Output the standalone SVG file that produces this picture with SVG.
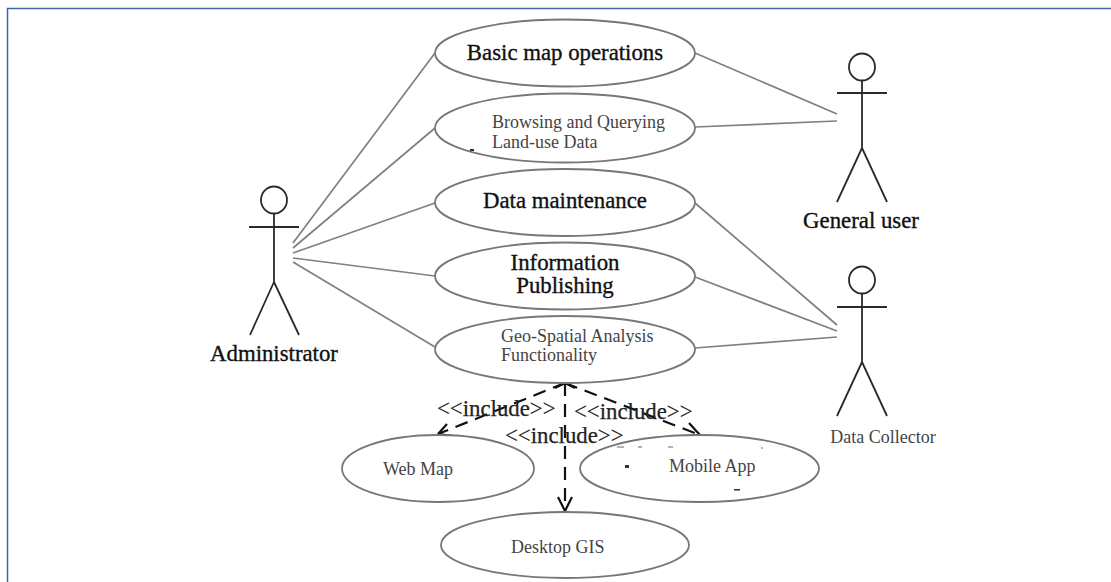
<svg xmlns="http://www.w3.org/2000/svg" width="1111" height="582" viewBox="0 0 1111 582">
<style>
.uc{fill:#fff;stroke:#777;stroke-width:1.8}
.a{fill:none;stroke:#2a2a2a;stroke-width:1.8}
.c{fill:none;stroke:#808080;stroke-width:1.7}
.d{fill:none;stroke:#111;stroke-width:2.2;stroke-dasharray:13 8}
.h{fill:none;stroke:#111;stroke-width:2.2}
.m{fill:#333}
text{font-family:"Liberation Serif","Times New Roman",serif}
.b{font-size:22.8px;fill:#111;stroke:#111;stroke-width:.35}
.s{font-size:18px;fill:#444}
.i{font-size:22.8px;fill:#222;stroke:#222;stroke-width:.25}
</style>
<rect width="1111" height="582" fill="#fff"/>
<path d="M7.5 582V8.5H1111" fill="none" stroke="#3f66ad" stroke-width="1.5"/>
<g id="connectors">
<path class="c" d="M293 243L435 53M293 248L435 128M293 253L435 203M293 258L435 276M293 262L435 347M695 53L837 114M695 127L837 121M695 203L837 325M695 277L837 331M695 348L837 337"/>
<path class="d" d="M565 383L438 434M565 383L700 435M565 383V510"/>
<path class="h" d="M438 434L447 424M438 434L454 436M700 435L689 423M700 435L683 436M565 511L558 497M565 511L572 497M555 388L565 383L575 388"/>
</g>
<g id="uc-basic"><ellipse class="uc" cx="565" cy="53" rx="130" ry="33.5"/><text class="b" x="565" y="60" text-anchor="middle">Basic map operations</text></g>
<g id="uc-browse"><ellipse class="uc" cx="565" cy="128" rx="130" ry="34.5"/><text class="s" x="492" y="128">Browsing and Querying</text><text class="s" x="492" y="148">Land-use Data</text><rect class="m" x="470" y="149" width="4" height="2"/></g>
<g id="uc-maint"><ellipse class="uc" cx="565" cy="202.5" rx="130" ry="33.5"/><text class="b" x="565" y="208" text-anchor="middle">Data maintenance</text></g>
<g id="uc-publish"><ellipse class="uc" cx="565" cy="276" rx="130" ry="33.5"/><text class="b" x="565" y="270" text-anchor="middle">Information</text><text class="b" x="565" y="293" text-anchor="middle">Publishing</text></g>
<g id="uc-geo"><ellipse class="uc" cx="565" cy="349.5" rx="130" ry="33.5"/><text class="s" x="501" y="342">Geo-Spatial Analysis</text><text class="s" x="501" y="361">Functionality</text></g>
<g id="uc-web"><ellipse class="uc" cx="438" cy="468.5" rx="96" ry="33.5"/><text class="s" x="383" y="475">Web Map</text></g>
<g id="uc-mobile"><ellipse class="uc" cx="699.5" cy="468.5" rx="119.5" ry="33.5"/><text class="s" x="669" y="472">Mobile App</text><rect class="m" x="625" y="465" width="4" height="3"/><rect class="m" x="734" y="489" width="6" height="1.5"/><path d="M617 447H624M638 447H642M668 447H673M761 448H763" stroke="#666" stroke-width="1.2" fill="none"/></g>
<g id="uc-desktop"><ellipse class="uc" cx="565" cy="545" rx="124" ry="33"/><text class="s" x="511" y="553">Desktop GIS</text></g>
<g id="labels">
<text class="i" x="437" y="416">&lt;&lt;include&gt;&gt;</text>
<text class="i" x="574" y="419">&lt;&lt;include&gt;&gt;</text>
<text class="i" x="505" y="443">&lt;&lt;include&gt;&gt;</text>
</g>
<g id="actor-admin"><ellipse class="a" cx="274" cy="200" rx="13" ry="13.5"/><path class="a" d="M274 213.5V282M249 227H299M274 282L250 335M274 282L299 335"/><text class="b" x="274" y="361" text-anchor="middle">Administrator</text></g>
<g id="actor-general"><ellipse class="a" cx="862" cy="67" rx="13" ry="13.5"/><path class="a" d="M862 80.500V148M837 93H887M862 148L837 202M862 148L887 202"/><text class="b" x="861" y="228" text-anchor="middle">General user</text></g>
<g id="actor-collector"><ellipse class="a" cx="862" cy="280" rx="13" ry="13.5"/><path class="a" d="M862 293.500V362M837 307H887M862 362L837 416M862 362L887 416"/><text class="s" x="883" y="443" text-anchor="middle">Data Collector</text></g>
</svg>
